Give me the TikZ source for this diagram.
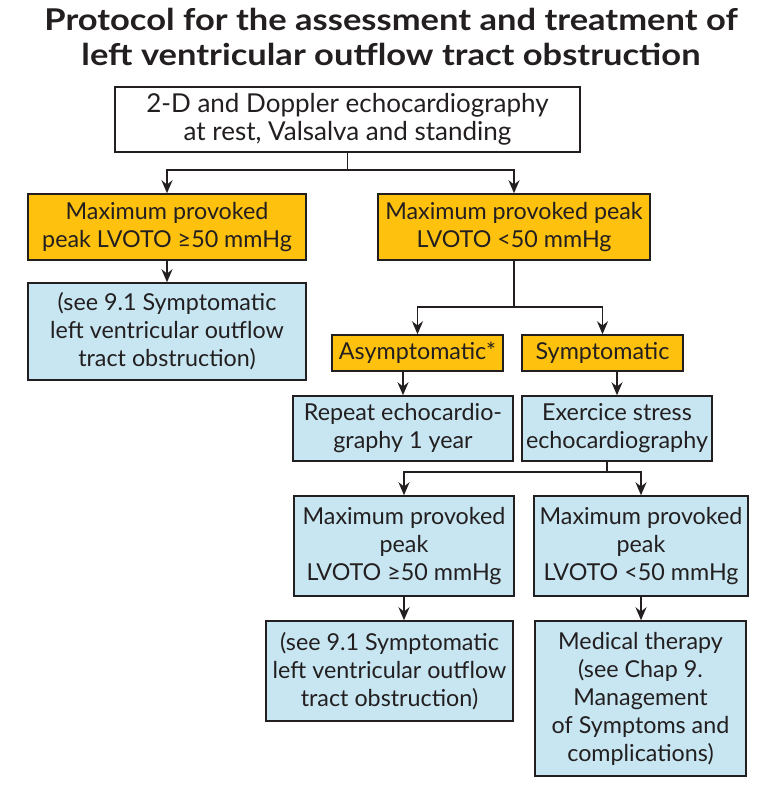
\documentclass[tikz,border=0pt]{standalone}
\usepackage{fontspec}
\setmainfont{Lato}
\newfontfamily\titlefont[FakeStretch=1.15]{Lato}
\usepackage{tikz}
\usetikzlibrary{positioning,arrows.meta,calc}
\definecolor{amber}{HTML}{FEC10E}
\definecolor{paleblue}{HTML}{C7E6F1}
\definecolor{ink}{HTML}{231F20}

\begin{document}
\begin{tikzpicture}[
    x=1pt, y=-1pt,
    >={Stealth[length=13pt,width=11pt]},
    line width=1.5pt,
    box/.style={draw=ink, text=ink, align=center, inner sep=2pt, font=\fontsize{23.3}{28}\selectfont},
    query/.style={box, fill=amber},
    advice/.style={box, fill=paleblue}
]
\useasboundingbox (0,0) rectangle (768,792);
\node[text=ink, align=center, font=\titlefont\fontsize{30}{35}\selectfont\bfseries] (title) at (391,37)
    {Protocol for the assessment and treatment of\\left ventricular outflow tract obstruction};

\node[box, fill=white, minimum width=465pt, minimum height=65pt, font=\fontsize{26}{28}\selectfont] (echo) at (347.5,119.5)
    {2-D and Doppler echocardiography\\at rest, Valsalva and standing};
\node[query, minimum width=278pt, minimum height=66pt] (hipeak) at (167,227)
    {Maximum provoked\\peak LVOTO ≥50 mmHg};
\node[query, minimum width=272pt, minimum height=66pt] (lopeak) at (514,227)
    {Maximum provoked peak\\LVOTO <50 mmHg};
\node[advice, minimum width=278pt, minimum height=97pt] (seerest) at (167,331.5)
    {(see 9.1 Symptomatic\\left ventricular outflow\\tract obstruction)};
\node[query, minimum width=171pt, minimum height=36pt] (asym) at (417.5,353) {Asymptomatic*};
\node[query, minimum width=161pt, minimum height=36pt] (symp) at (602.5,353) {Symptomatic};
\node[advice, minimum width=220pt, minimum height=65pt] (repeat) at (403,428.5)
    {Repeat echocardio-\\graphy 1 year};
\node[advice, minimum width=190pt, minimum height=65pt] (exer) at (617,428.5)
    {Exercice stress\\echocardiography};
\node[advice, minimum width=220pt, minimum height=100pt] (hiex) at (404,546)
    {Maximum provoked\\peak\\LVOTO ≥50 mmHg};
\node[advice, minimum width=214pt, minimum height=100pt] (loex) at (641,546)
    {Maximum provoked\\peak\\LVOTO <50 mmHg};
\node[advice, minimum width=247pt, minimum height=100pt] (seeex) at (389.5,671)
    {(see 9.1 Symptomatic\\left ventricular outflow\\tract obstruction)};
\node[advice, minimum width=211pt, minimum height=155pt] (med) at (640.5,698.5)
    {Medical therapy\\(see Chap 9.\\Management\\of Symptoms and\\complications)};

\coordinate (fork) at ($(exer.south)+(-10,0)$);

\draw[->, draw=ink] (echo.south) -- ++(0,17) -| (hipeak.north);
\draw[->, draw=ink] (echo.south) -- ++(0,17) -| (lopeak.north);
\draw[->, draw=ink] (hipeak) -- (seerest);
\draw[->, draw=ink] (lopeak.south) -- ++(0,46) -| (asym.north);
\draw[->, draw=ink] (lopeak.south) -- ++(0,46) -| (symp.north);
\draw[->, draw=ink] (repeat.north |- asym.south) -- (repeat.north);
\draw[->, draw=ink] (exer.north |- symp.south) -- (exer.north);
\draw[->, draw=ink] (fork) -- ++(0,10) -| (hiex.north);
\draw[->, draw=ink] (fork) -- ++(0,10) -| (loex.north);
\draw[->, draw=ink] (hiex.south) -- (hiex.south |- seeex.north);
\draw[->, draw=ink] (loex.south) -- (loex.south |- med.north);
\end{tikzpicture}
\end{document}
